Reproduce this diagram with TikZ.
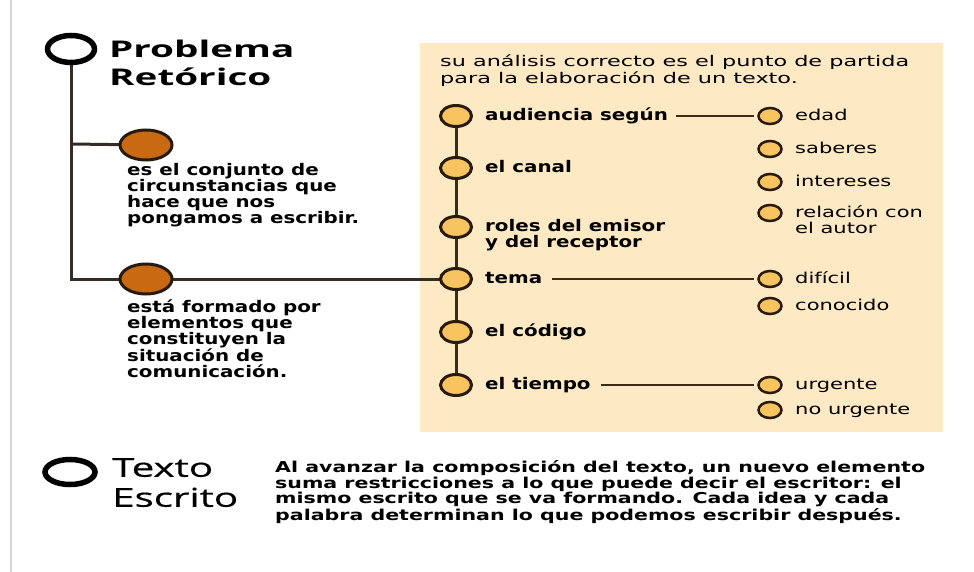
\documentclass[tikz,border=0pt]{standalone}
\usepackage{fontspec}
\usetikzlibrary{backgrounds,shapes.geometric}
\newfontfamily\pixfont[FakeStretch=1.24]{DejaVu Sans}
\newfontfamily\parafont[FakeStretch=1.37]{DejaVu Sans}
\newfontfamily\boxfont[FakeStretch=1.52]{DejaVu Sans}
\newfontfamily\subfontfam[FakeStretch=1.4]{DejaVu Sans}
\newfontfamily\headfont[FakeStretch=1.68]{Open Sans}
\newfontfamily\textofont[FakeStretch=1.55,FakeBold=0.6]{Open Sans}
\definecolor{orangec}{RGB}{201,106,18}
\definecolor{ringdark}{RGB}{40,26,12}
\definecolor{goldc}{RGB}{247,196,96}
\definecolor{beige}{RGB}{253,233,196}
\definecolor{linec}{RGB}{50,45,40}
\definecolor{boxline}{RGB}{58,42,22}
\tikzset{
  bigring/.style={ellipse, draw=black, line width=5.5pt, fill=white, inner sep=0pt, minimum width=47pt, minimum height=27pt},
  orangedot/.style={ellipse, draw=ringdark, line width=3pt, fill=orangec, inner sep=0pt, minimum width=52pt, minimum height=30pt},
  maindot/.style={ellipse, draw=ringdark, line width=3pt, fill=goldc, inner sep=0pt, minimum width=31pt, minimum height=21pt},
  subdot/.style={ellipse, draw=ringdark, line width=2.5pt, fill=goldc, inner sep=0pt, minimum width=23pt, minimum height=16pt},
  boldtxt/.style={inner sep=0pt, text=black, font={\pixfont\bfseries\fontsize{16}{16}\selectfont}},
  lbl/.style={boldtxt, anchor=base west},
  subfont/.style={inner sep=0pt, text=black, font={\subfontfam\fontsize{15}{16}\selectfont}},
  sublbl/.style={subfont, anchor=base west},
  mainline/.style={draw=linec, line width=3pt},
  conn/.style={draw=boxline, line width=2pt},
}
\begin{document}
\begin{tikzpicture}[x=1pt,y=-1pt]
\useasboundingbox (0,0) rectangle (974,572);
\begin{scope}[on background layer]
  \fill[white] (0,0) rectangle (974,572);
  \draw[color={rgb,255:red,212;green,212;blue,212}, line width=2pt] (11,0) -- (11,572);
  \fill[beige] (420,43) rectangle (943,432);
\end{scope}

% left structure
\node[bigring] (prob) at (71,49) {};
\node[anchor=north west, inner sep=0pt, align=left, font={\headfont\bfseries\fontsize{23}{28}\selectfont}] (probt) at (109,40) {Problema\\Retórico};
\coordinate (branch) at (71,144);
\coordinate (corner) at (71,279);
\node[orangedot] (o1) at (146,145) {};
\node[orangedot] (o2) at (146,279) {};
\node[boldtxt, anchor=north west, align=left] (d1) at (127,163) {es el conjunto de\\circunstancias que\\hace que nos\\pongamos a escribir.};
\node[boldtxt, anchor=north west, align=left] (d2) at (127,299.5) {está formado por\\elementos que\\constituyen la\\situación de\\comunicación.};

% box content
\node[anchor=north west, inner sep=0pt, align=left, text=black, font={\boxfont\fontsize{14.7}{17}\selectfont}] (intro) at (440,55) {su análisis correcto es el punto de partida\\para la elaboración de un texto.};

\node[maindot] (c1) at (456,116) {};
\node[maindot] (c2) at (456,168) {};
\node[maindot] (c3) at (456,227) {};
\node[maindot] (c4) at (456,279) {};
\node[maindot] (c5) at (456,332) {};
\node[maindot] (c6) at (456,385) {};

\node[lbl] (l1) at (485,120.4) {audiencia según};
\node[lbl] (l2) at (485,172.4) {el canal};
\node[boldtxt, anchor=north west, align=left] (l3) at (485,219) {roles del emisor\\y del receptor};
\node[lbl] (l4) at (485,283.4) {tema};
\node[lbl] (l5) at (485,336.4) {el código};
\node[lbl] (l6) at (485,389.4) {el tiempo};

\node[subdot] (s1) at (770,116) {};
\node[subdot] (s2) at (770,149) {};
\node[subdot] (s3) at (770,182) {};
\node[subdot] (s4) at (770,213) {};
\node[subdot] (s5) at (770,279) {};
\node[subdot] (s6) at (770,306) {};
\node[subdot] (s7) at (770,385) {};
\node[subdot] (s8) at (770,410) {};

\node[sublbl] (t1) at (795,120.1) {edad};
\node[sublbl] (t2) at (795,153.1) {saberes};
\node[sublbl] (t3) at (795,186.1) {intereses};
\node[subfont, anchor=north west, align=left] (t4) at (795,205.1) {relación con\\el autor};
\node[sublbl] (t5) at (795,283.1) {difícil};
\node[sublbl] (t6) at (795,310.1) {conocido};
\node[sublbl] (t7) at (795,389.1) {urgente};
\node[sublbl] (t8) at (795,414.1) {no urgente};

% bottom
\node[bigring, line width=5.5pt, minimum width=50pt, minimum height=25pt] (tex) at (70,472) {};
\node[anchor=north west, inner sep=0pt, align=left, font={\textofont\fontsize{26}{30}\selectfont}] (text) at (112,458) {Texto\\Escrito};
\node[anchor=north west, inner sep=0pt, align=left, text=black, font={\parafont\bfseries\fontsize{15}{14.5}\selectfont}] (para) at (275,460.7) {Al avanzar la composición del texto, un nuevo elemento\\suma restricciones a lo que puede decir el escritor: el\\mismo escrito que se va formando. Cada idea y cada\\palabra determinan lo que podemos escribir después.};

% connectors
\begin{scope}[on background layer]
  \draw[mainline] (prob.south) -- (corner) -- (c4.center);
  \draw[mainline] (branch) -- (o1.center);
  \draw[conn, line width=3pt] (c1.center) -- (c6.center);
  \draw[conn, shorten <=8pt, shorten >=3pt] (l1.east |- s1.west) -- (s1.west);
  \draw[conn, shorten <=10pt, shorten >=3pt] (l4.east |- s5.west) -- (s5.west);
  \draw[conn, shorten <=10pt, shorten >=3pt] (l6.east |- s7.west) -- (s7.west);
\end{scope}
\end{tikzpicture}
\end{document}
